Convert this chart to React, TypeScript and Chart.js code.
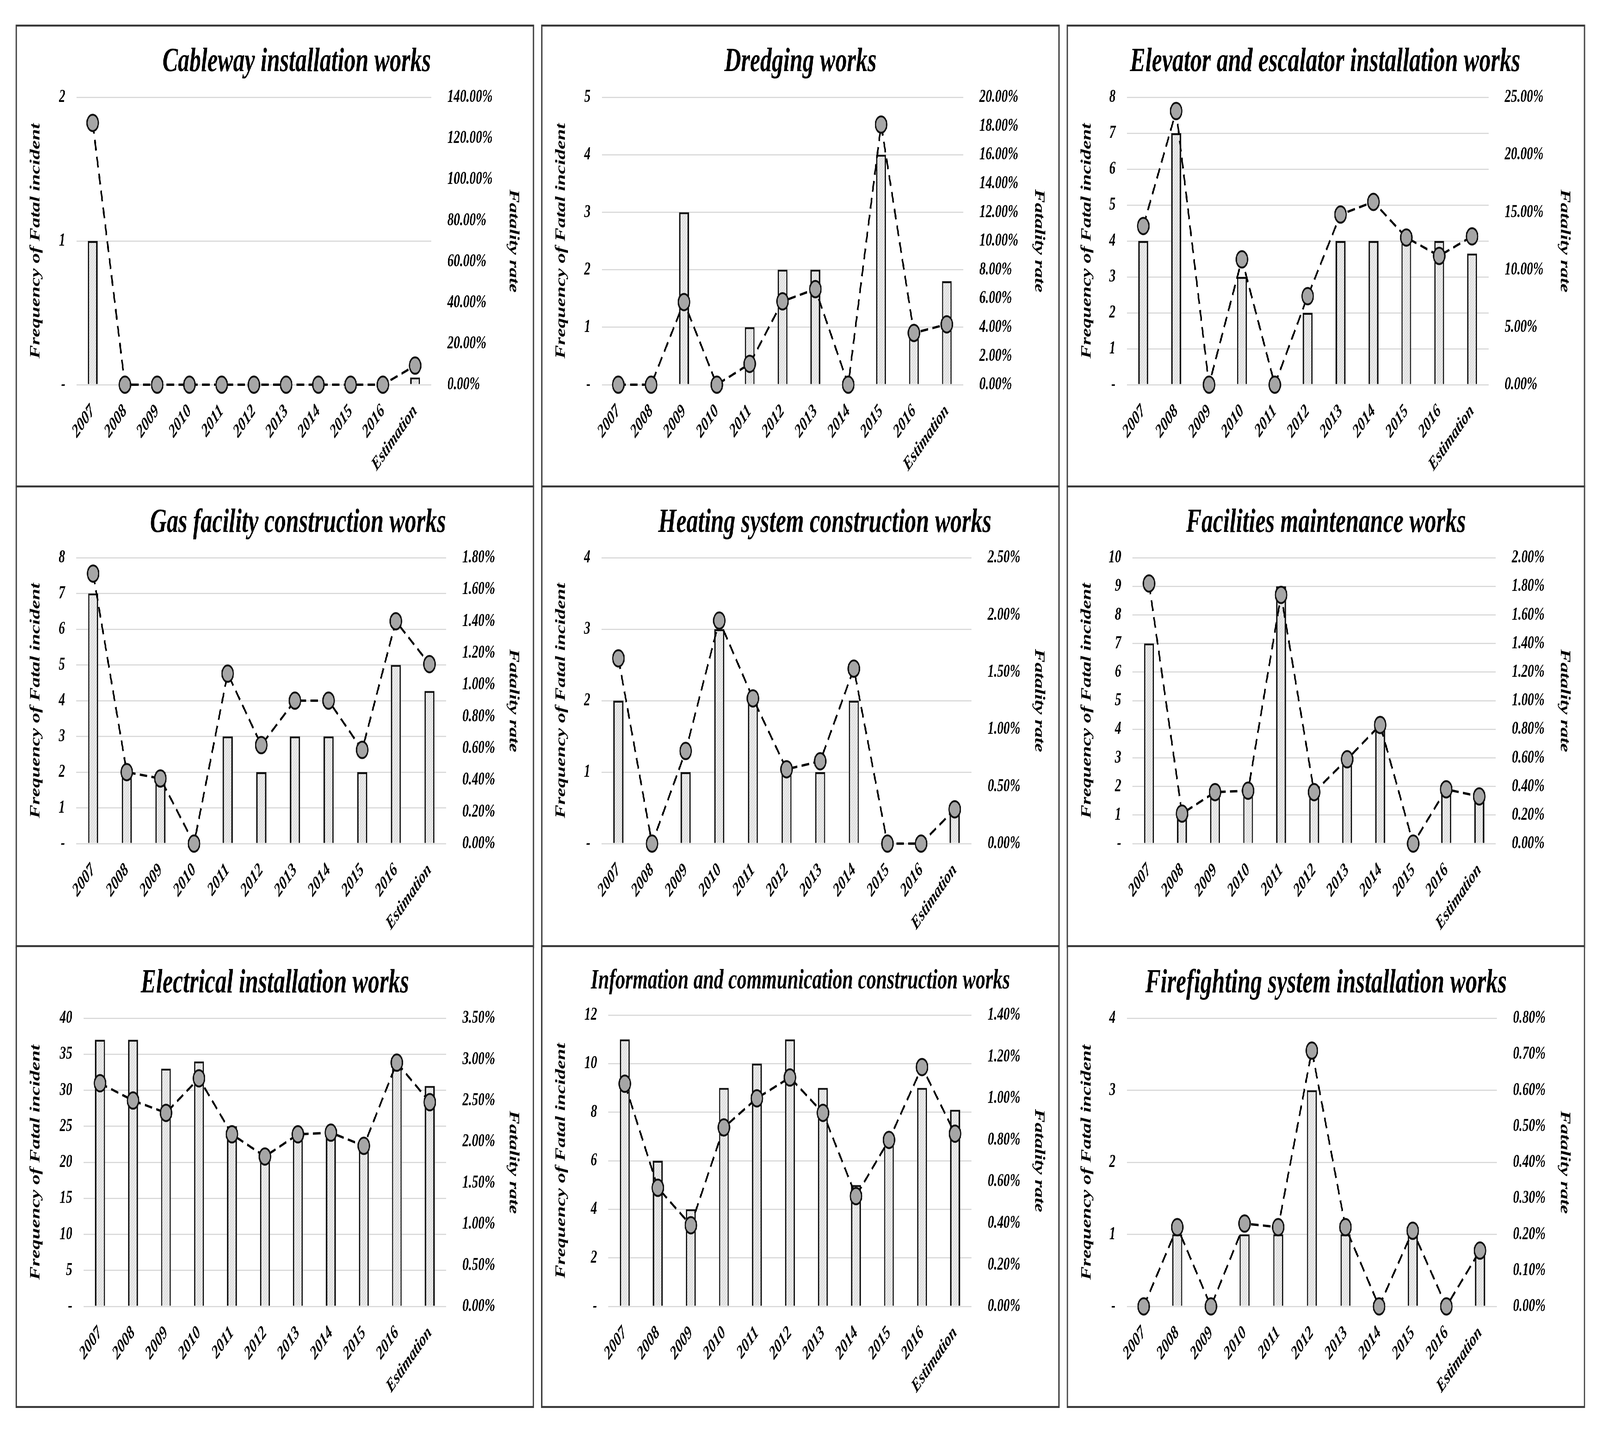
import React, { useEffect, useRef, useState } from 'react';
import { Chart, registerables } from 'chart.js';

Chart.register(...registerables);

// ---------- DATA ----------
const categories = ['2007', '2008', '2009', '2010', '2011', '2012', '2013', '2014', '2015', '2016', 'Estimation'];

const panelTitles = [
  'Cableway installation works',
  'Dredging works',
  'Elevator and escalator installation works',
  'Gas facility construction works',
  'Heating system construction works',
  'Facilities maintenance works',
  'Electrical installation works',
  'Information and communication construction works',
  'Firefighting system installation works',
];

const incidentAxisTitle = 'Frequency of Fatal incident';
const rateAxisTitle = 'Fatality rate';

// Frequency of fatal incidents (bars)
const cablewayIncidents = [1, 0, 0, 0, 0, 0, 0, 0, 0, 0, 0.05];
const dredgingIncidents = [0, 0, 3, 0, 1, 2, 2, 0, 4, 1, 1.8];
const elevatorIncidents = [4, 7, 0, 3, 0, 2, 4, 4, 4, 4, 3.65];
const gasIncidents = [7, 2, 2, 0, 3, 2, 3, 3, 2, 5, 4.27];
const heatingIncidents = [2, 0, 1, 3, 2, 1, 1, 2, 0, 0, 0.45];
const facilitiesIncidents = [7, 1, 2, 2, 9, 2, 3, 4, 0, 2, 1.7];
const electricalIncidents = [37, 37, 33, 34, 25, 21, 24, 24, 22, 33, 30.6];
const infoCommIncidents = [11, 6, 4, 9, 10, 11, 9, 5, 7, 9, 8.1];
const firefightingIncidents = [0, 1, 0, 1, 1, 3, 1, 0, 1, 0, 0.71];

// Fatality rate in % (dashed line)
const cablewayRates = [127.5, 0, 0, 0, 0, 0, 0, 0, 0, 0, 9.3];
const dredgingRates = [0, 0, 5.75, 0, 1.45, 5.8, 6.65, 0, 18.1, 3.6, 4.2];
const elevatorRates = [13.8, 23.8, 0, 10.9, 0, 7.7, 14.8, 15.9, 12.8, 11.2, 12.9];
const gasRates = [1.7, 0.45, 0.41, 0, 1.07, 0.62, 0.9, 0.9, 0.59, 1.4, 1.13];
const heatingRates = [1.62, 0, 0.81, 1.95, 1.27, 0.65, 0.72, 1.53, 0, 0, 0.3];
const facilitiesRates = [1.82, 0.21, 0.36, 0.37, 1.74, 0.36, 0.59, 0.83, 0, 0.38, 0.33];
const electricalRates = [2.71, 2.5, 2.35, 2.77, 2.09, 1.82, 2.09, 2.11, 1.95, 2.96, 2.48];
const infoCommRates = [1.07, 0.57, 0.39, 0.86, 1.0, 1.1, 0.93, 0.53, 0.8, 1.15, 0.83];
const firefightingRates = [0, 0.22, 0, 0.23, 0.22, 0.71, 0.22, 0, 0.21, 0, 0.155];

// Axis tick ranges
const incidentAxisMax = [2, 5, 8, 8, 4, 10, 40, 12, 4];
const incidentAxisStep = [1, 1, 1, 1, 1, 1, 5, 2, 1];
const rateAxisMax = [140, 20, 25, 1.8, 2.5, 2.0, 3.5, 1.4, 0.8];
const rateAxisStep = [20, 2, 5, 0.2, 0.5, 0.2, 0.5, 0.2, 0.1];

const incidentSeries = [
  cablewayIncidents, dredgingIncidents, elevatorIncidents,
  gasIncidents, heatingIncidents, facilitiesIncidents,
  electricalIncidents, infoCommIncidents, firefightingIncidents,
];
const rateSeries = [
  cablewayRates, dredgingRates, elevatorRates,
  gasRates, heatingRates, facilitiesRates,
  electricalRates, infoCommRates, firefightingRates,
];

// ---------- LAYOUT / STYLE ----------
const DESIGN_W = 5955;
const DESIGN_H = 3664;
const FONT = '"Liberation Serif", "Times New Roman", serif';
const COL_LEFT = [58, 2014, 3970];
const ROW_TOP = [63, 1243, 2420];
const PANEL_W = 1930;
const PANEL_H = 1185;
const BORDER = 5;
const CANVAS_W = PANEL_W - 2 * BORDER;
const CANVAS_H = PANEL_H - 2 * BORDER;
const PAD_LEFT = 39;
const PAD_RIGHT = 41;
const PAD_BOTTOM = 4;
const TITLE_DX = [81, 0, -3, 86, 91, 0, 0, 0, 0];
const TITLE_SIZE = [86, 86, 86, 86, 86, 86, 86, 72, 86];
const TITLE_BASE = [114, 114, 114, 114, 114, 114, 116, 106, 116];
const PLOT_TOP = [181, 181, 181, 180, 180, 180, 182, 174, 182];
const PLOT_BOTTOM = [917, 917, 917, 912, 912, 912, 920, 920, 920];
const PLOT_LEFT = [222, 221, 219, 221, 220, 240, 248, 245, 219];
const PLOT_RIGHT = [1542, 1566, 1565, 1598, 1597, 1592, 1598, 1597, 1596];

const panelTitlePlugin = {
  id: 'panelTitle',
  afterDraw(chart: any, _args: any, opts: any) {
    const ctx = chart.ctx;
    ctx.save();
    ctx.font = `italic bold ${opts.size}px ${FONT}`;
    ctx.fillStyle = '#000';
    ctx.textAlign = 'center';
    ctx.textBaseline = 'alphabetic';
    ctx.fillText(opts.text, chart.width / 2 + opts.dx, opts.y);
    ctx.restore();
  },
};

function makeHatch(): any {
  const c = document.createElement('canvas');
  c.width = 8;
  c.height = 8;
  const g = c.getContext('2d')!;
  g.fillStyle = '#ebebeb';
  g.fillRect(0, 0, 8, 8);
  g.strokeStyle = '#cdcdcd';
  g.lineWidth = 1.2;
  g.beginPath();
  g.moveTo(0, 8); g.lineTo(8, 0);
  g.moveTo(-2, 2); g.lineTo(2, -2);
  g.moveTo(6, 10); g.lineTo(10, 6);
  g.stroke();
  return g.createPattern(c, 'repeat');
}

function Panel({ index }: { index: number }) {
  const ref = useRef<HTMLCanvasElement | null>(null);
  useEffect(() => {
    if (!ref.current) return;
    const tickFont = { family: FONT, size: 47, style: 'italic' as const, weight: 'bold' as const };
    const axisTitleFont = { family: FONT, size: 52, style: 'italic' as const, weight: 'bold' as const };
    const chart = new Chart(ref.current, {
      type: 'bar',
      data: {
        labels: categories,
        datasets: [
          {
            type: 'line' as const,
            label: rateAxisTitle,
            data: rateSeries[index],
            yAxisID: 'y1',
            order: 0,
            borderColor: '#000',
            borderWidth: 6,
            borderDash: [28, 16],
            fill: false,
            tension: 0,
            clip: false as any,
            pointRadius: 21,
            pointHoverRadius: 21,
            pointBackgroundColor: '#a6a6a6',
            pointBorderColor: '#111',
            pointBorderWidth: 5,
          } as any,
          {
            type: 'bar' as const,
            label: incidentAxisTitle,
            data: incidentSeries[index],
            yAxisID: 'y',
            order: 1,
            backgroundColor: makeHatch(),
            borderColor: '#111',
            borderWidth: 5,
            categoryPercentage: 1,
            barPercentage: 0.3,
          } as any,
        ],
      },
      options: {
        animation: false,
        responsive: false,
        devicePixelRatio: 1,
        layout: { padding: { top: PLOT_TOP[index], left: PAD_LEFT, right: PAD_RIGHT, bottom: PAD_BOTTOM } },
        plugins: {
          legend: { display: false },
          tooltip: { enabled: false },
          title: { display: false },
          panelTitle: {
            text: panelTitles[index],
            size: TITLE_SIZE[index],
            dx: TITLE_DX[index],
            y: TITLE_BASE[index],
          },
        } as any,
        scales: {
          x: {
            type: 'category',
            offset: true,
            grid: { display: false, drawTicks: false },
            border: { display: false },
            afterFit: (s: any) => {
              s.height = CANVAS_H - PAD_BOTTOM - PLOT_BOTTOM[index];
            },
            ticks: {
              font: { ...tickFont, size: 48 },
              color: '#000',
              minRotation: 45,
              maxRotation: 45,
              autoSkip: false,
              padding: 40,
            },
          },
          y: {
            position: 'left',
            min: 0,
            max: incidentAxisMax[index],
            grid: { color: '#d9d9d9', lineWidth: 3, drawTicks: false },
            border: { display: false },
            afterFit: (s: any) => {
              s.width = PLOT_LEFT[index] - PAD_LEFT;
            },
            ticks: {
              stepSize: incidentAxisStep[index],
              font: tickFont,
              color: '#000',
              padding: 42,
              callback: (v: any) => (Number(v) === 0 ? '-' : String(v)),
            },
            title: {
              display: true,
              text: incidentAxisTitle,
              color: '#000',
              font: axisTitleFont,
              padding: { top: 0, bottom: 16 },
            },
          },
          y1: {
            position: 'right',
            min: 0,
            max: rateAxisMax[index],
            grid: { display: false, drawTicks: false },
            border: { display: false },
            afterFit: (s: any) => {
              s.width = CANVAS_W - PAD_RIGHT - PLOT_RIGHT[index];
            },
            ticks: {
              stepSize: rateAxisStep[index],
              font: tickFont,
              color: '#000',
              padding: 60,
              callback: (v: any) => Number(v).toFixed(2) + '%',
            },
            title: {
              display: true,
              text: rateAxisTitle,
              color: '#000',
              font: axisTitleFont,
              padding: { top: 0, bottom: 0 },
            },
          },
        },
      } as any,
      plugins: [panelTitlePlugin as any],
    });
    return () => chart.destroy();
  }, [index]);

  const col = index % 3;
  const row = Math.floor(index / 3);
  return (
    <div
      style={{
        position: 'absolute',
        left: COL_LEFT[col],
        top: ROW_TOP[row],
        width: PANEL_W,
        height: PANEL_H,
        border: `${BORDER}px solid #3a3a3a`,
        boxSizing: 'border-box',
        background: '#fff',
      }}
    >
      <canvas
        ref={ref}
        width={CANVAS_W}
        height={CANVAS_H}
        style={{ display: 'block', width: CANVAS_W, height: CANVAS_H }}
      />
    </div>
  );
}

function viewportScale() {
  const w = typeof window !== 'undefined' ? window.innerWidth : DESIGN_W;
  const h = typeof window !== 'undefined' ? window.innerHeight : DESIGN_H;
  return { sx: w / DESIGN_W, sy: h / DESIGN_H };
}

export default function App() {
  const [scale, setScale] = useState(viewportScale());
  useEffect(() => {
    const onResize = () => setScale(viewportScale());
    window.addEventListener('resize', onResize);
    return () => window.removeEventListener('resize', onResize);
  }, []);
  return (
    <div
      style={{
        position: 'fixed',
        left: 0,
        top: 0,
        width: '100vw',
        height: '100vh',
        overflow: 'hidden',
        background: '#fff',
      }}
    >
      <div
        style={{
          position: 'absolute',
          left: 0,
          top: 0,
          width: DESIGN_W,
          height: DESIGN_H,
          transform: `scale(${scale.sx}, ${scale.sy})`,
          transformOrigin: '0 0',
          background: '#fff',
        }}
      >
        {panelTitles.map((_, i) => (
          <Panel key={i} index={i} />
        ))}
      </div>
    </div>
  );
}
